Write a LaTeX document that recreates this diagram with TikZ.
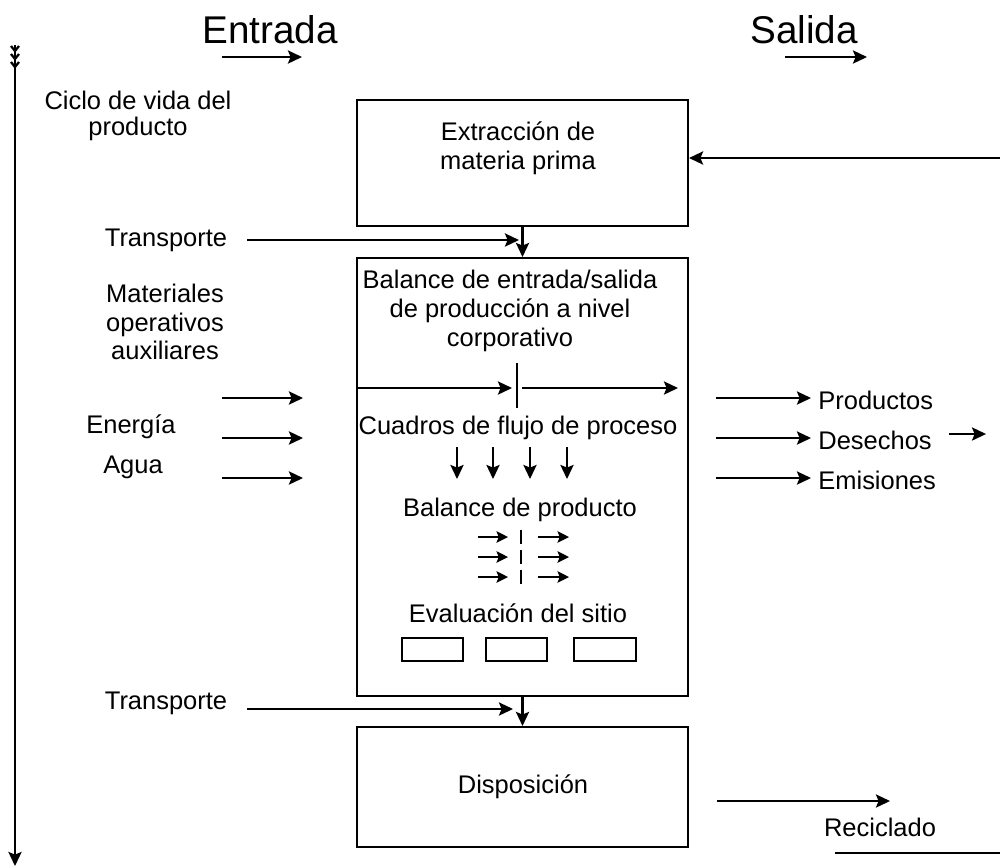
\documentclass[tikz,border=0pt]{standalone}
\usepackage{fontspec}
\setmainfont{Liberation Sans}
\usetikzlibrary{arrows.meta}
\usetikzlibrary{positioning}
\tikzstyle{arrow}      = [line width=1.2pt,->,>={Stealth[length=8pt,width=7.5pt,inset=1.5pt]}]
\tikzstyle{smallarrow} = [line width=1.2pt,->,>={Stealth[length=6.5pt,width=6.5pt,inset=1.2pt]}]
\tikzstyle{box}        = [draw=black, line width=1.2pt, inner sep=0pt]
\tikzstyle{txt}        = [align=center, inner sep=0pt, font=\fontsize{14.5}{16.4}\selectfont]
\tikzstyle{title}      = [inner sep=0pt, font=\fontsize{22}{26}\selectfont]

\begin{document}
\begin{tikzpicture}[x=0.02cm, y=-0.02cm]
  \useasboundingbox (0,0) rectangle (1000,867);

  % Headers
  \node[title] (entrada) at (270,30) {Entrada};
  \node[title] (salida) at (804,30) {Salida};
  \coordinate (ea) at (222,57);
  \coordinate (sa) at (785,57);
  \draw[arrow] (ea) -- ++(80,0);
  \draw[arrow] (sa) -- ++(82,0);

  % Life cycle line
  \coordinate (lctop) at (15,45);
  \coordinate (lcbot) at (15,866);
  \draw[arrow] (lctop) -- (lcbot);
  \foreach \y in {46,54,62}
    \draw[line width=1.3pt] (11,\y) -- (15,\y+5) -- (19,\y);
  \node[txt, font=\fontsize{14.5}{14.5}\selectfont] (ciclo) at (138,116) {Ciclo de vida del\\producto};

  % Extraction
  \node[box, minimum width=6.62cm, minimum height=2.52cm] (extr) at (522.5,163) {};
  \node[txt] (extrtxt) at (518,148) {Extracción de\\materia prima};
  \coordinate (ret) at (1000,158);
  \draw[arrow] (ret) -- (ret -| extr.east);

  % Corporate level
  \node[box, minimum width=6.62cm, minimum height=8.76cm] (corp) at (522.5,477) {};
  \node[txt] (trans1) at (166,240) {Transporte};
  \draw[arrow] ([xshift=0.4cm]trans1.east) -- ([xshift=-2pt]trans1.east -| extr.south);
  \draw[arrow] (extr.south) -- (corp.north);
  \node[txt] (corptxt) at (510,311) {Balance de entrada/salida\\de producción a nivel\\corporativo};
  \coordinate (cin) at (357,388);
  \coordinate (cmid) at (517,388);
  \draw[arrow] (cin) -- ([xshift=-0.1cm]cmid);
  \draw[line width=1.2pt] ([yshift=0.5cm]cmid) -- ([yshift=-0.4cm]cmid);
  \draw[arrow] ([xshift=0.1cm]cmid) -- (678,388);

  % Process flow
  \node[txt] (flujo) at (518,428) {Cuadros de flujo de proceso};
  \foreach \x in {457,493,530,567}
    \draw[arrow] (\x,447) -- (\x,479);

  % Product balance
  \node[txt] (prodbal) at (520,510) {Balance de producto};
  \foreach \y in {537,557,577} {
    \draw[smallarrow] (478,\y) -- (508,\y);
    \draw[line width=1.2pt] (521,\y-7) -- (521,\y+7);
    \draw[smallarrow] (538,\y) -- (569,\y);
  }

  % Site evaluation
  \node[txt] (sitio) at (518,613) {Evaluación del sitio};
  \node[box, minimum width=1.22cm, minimum height=0.46cm] (s1) at (432.5,649.5) {};
  \node[box, minimum width=1.22cm, minimum height=0.46cm] (s2) at (516.5,649.5) {};
  \node[box, minimum width=1.24cm, minimum height=0.46cm] (s3) at (605,649.5) {};

  % Inputs
  \node[txt] (mat) at (165,322) {Materiales\\operativos\\auxiliares};
  \node[txt] (energia) at (131,427) {Energía};
  \node[txt] (agua) at (133,467) {Agua};
  \foreach \y in {398,438,478}
    \draw[arrow] (222,\y) -- (303,\y);

  % Outputs
  \node[txt, anchor=west, inner sep=4pt] (prod) at (811,400) {Productos};
  \node[txt, anchor=west, inner sep=4pt] (des) at (811,440) {Desechos};
  \node[txt, anchor=west, inner sep=4pt] (emi) at (811,480) {Emisiones};
  \coordinate (o1) at (716,398);
  \coordinate (o2) at (716,438);
  \coordinate (o3) at (716,478);
  \draw[arrow] (o1) -- (o1 -| prod.west);
  \draw[arrow] (o2) -- (o2 -| des.west);
  \draw[arrow] (o3) -- (o3 -| emi.west);
  \draw[arrow] ([xshift=0.2cm]des.east |- 0,434) -- ++(37,0);

  % Disposal
  \node[box, minimum width=6.62cm, minimum height=2.4cm] (disp) at (522.5,787) {};
  \node[txt] (disptxt) at (523,787) {Disposición};
  \node[txt] (trans2) at (166,703) {Transporte};
  \draw[arrow] ([xshift=0.4cm]trans2.east |- 0,709) -- (513,709);
  \draw[arrow] (corp.south) -- (disp.north);

  % Recycling
  \coordinate (rec) at (717,801);
  \draw[arrow] (rec) -- ++(173,0);
  \node[txt] (recic) at (880,827) {Reciclado};
  \draw[line width=1.2pt] (835,853) -- (1000,853);
\end{tikzpicture}
\end{document}
